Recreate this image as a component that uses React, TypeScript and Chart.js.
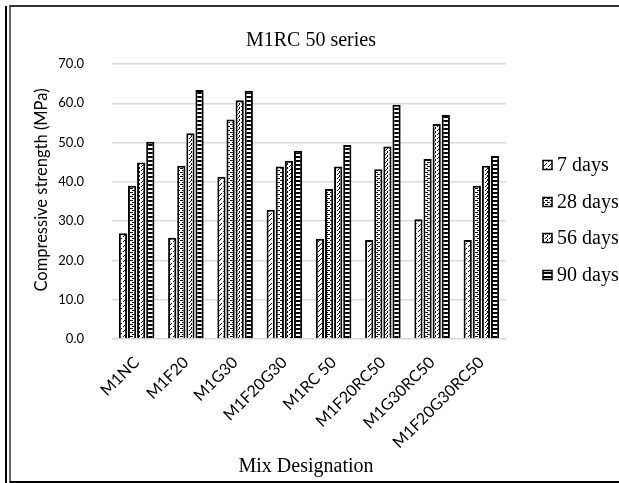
import { useEffect, useRef } from "react";
import { Chart, registerables } from "chart.js";

Chart.register(...registerables);

const categories = ["M1NC", "M1F20", "M1G30", "M1F20G30", "M1RC 50", "M1F20RC50", "M1G30RC50", "M1F20G30RC50"];
const seriesNames = ["7 days", "28 days", "56 days", "90 days"];
const days7 = [26.9, 25.8, 41.3, 32.9, 25.5, 25.2, 30.5, 25.2];
const days28 = [39.0, 44.1, 55.9, 43.9, 38.2, 43.2, 45.8, 39.0];
const days56 = [44.9, 52.4, 60.8, 45.4, 43.9, 49.0, 54.7, 44.1];
const days90 = [50.2, 63.4, 63.2, 47.9, 49.4, 59.6, 57.0, 46.6];
const yMin = 0;
const yMax = 70;
const yStep = 10;
const chartTitle = "M1RC 50 series";
const yTitle = "Compressive strength (MPa)";
const xTitle = "Mix Designation";

const PATTERNS: string[][] = [
  // 7 days: dashed upward diagonal
  [
    "....#",
    "...#.",
    ".....",
    ".#...",
    "#....",
  ],
  // 28 days: dashed horizontal
  [
    "###..",
    ".....",
    "..###",
    ".....",
  ],
  // 56 days: diagonal with dots
  [
    "...#",
    "..#.",
    ".#..",
    "...#",
  ],
  // 90 days: narrow horizontal
  [
    "####",
    "####",
    "....",
    "....",
  ],
];

function makePattern(ctx: CanvasRenderingContext2D, rows: string[]) {
  const c = document.createElement("canvas");
  c.width = rows[0].length;
  c.height = rows.length;
  const g = c.getContext("2d")!;
  g.fillStyle = "#ffffff";
  g.fillRect(0, 0, c.width, c.height);
  g.fillStyle = "#000000";
  rows.forEach((r, y) => {
    for (let x = 0; x < r.length; x++) if (r[x] === "#") g.fillRect(x, y, 1, 1);
  });
  return ctx.createPattern(c, "repeat")!;
}

export default function App() {
  const ref = useRef<HTMLCanvasElement>(null);
  useEffect(() => {
    const canvas = ref.current!;
    const ctx = canvas.getContext("2d")!;
    const pats = PATTERNS.map((p) => makePattern(ctx, p));
    const seriesData = [days7, days28, days56, days90];

    const deco = {
      id: "deco",
      afterDraw(chart: any) {
        const c = chart.ctx as CanvasRenderingContext2D;
        c.save();
        c.fillStyle = "#000";
        c.textAlign = "center";
        c.textBaseline = "middle";
        c.font = "20px 'Liberation Serif'";
        c.fillText(chartTitle, 311, 41);
        c.fillText(xTitle, 306, 467);
        c.save();
        c.translate(42, 190);
        c.rotate(-Math.PI / 2);
        c.font = "16.5px Lato";
        c.fillText(yTitle, 0, 0);
        c.restore();
        const ys = [165, 202, 238, 275];
        seriesNames.forEach((n, i) => {
          c.fillStyle = pats[i];
          c.fillRect(543, ys[i] - 4.5, 9, 9);
          c.strokeStyle = "#000";
          c.lineWidth = 1.5;
          c.strokeRect(543, ys[i] - 4.5, 9, 9);
          c.fillStyle = "#000";
          c.textAlign = "left";
          c.font = "20px 'Liberation Serif'";
          c.fillText(n, 557, ys[i] + 1);
        });
        c.fillStyle = "#000";
        c.fillRect(5, 6, 2, 477);
        c.fillStyle = "#666";
        c.fillRect(9, 5, 2, 478);
        c.fillStyle = "#333";
        c.fillRect(10, 5, 609, 2);
        c.fillStyle = "#000";
        c.fillRect(10, 481, 609, 2);
        c.restore();
      },
    };

    const chart = new Chart(canvas, {
      type: "bar",
      data: {
        labels: categories,
        datasets: seriesNames.map((n, i) => ({
          label: n,
          data: seriesData[i],
          backgroundColor: pats[i],
          borderColor: "#000",
          borderWidth: 2,
          categoryPercentage: 0.74,
          barPercentage: 0.9,
        })),
      },
      options: {
        responsive: false,
        animation: false,
        devicePixelRatio: 1,
        layout: { padding: { left: 0, top: 64, right: 113, bottom: 0 } },
        plugins: { legend: { display: false }, title: { display: false }, tooltip: { enabled: false } },
        scales: {
          x: {
            grid: { display: false },
            border: { display: false },
            ticks: {
              minRotation: 45,
              maxRotation: 45,
              color: "#000",
              font: { family: "Lato", size: 16 },
              padding: 6,
            },
            afterFit: (s: any) => {
              s.height = 144;
            },
          },
          y: {
            min: yMin,
            max: yMax,
            grid: { color: "#d9d9d9", lineWidth: 1.5, drawTicks: false },
            border: { display: false },
            ticks: {
              stepSize: yStep,
              color: "#000",
              font: { family: "Lato", size: 13 },
              padding: 28,
              callback: (v: any) => Number(v).toFixed(1),
            },
            afterFit: (s: any) => {
              s.width = 112;
            },
          },
        },
      },
      plugins: [deco],
    });
    return () => chart.destroy();
  }, []);
  return (
    <div style={{ position: "fixed", left: 0, top: 0, width: 619, height: 483, background: "#fff" }}>
      <canvas ref={ref} width={619} height={483} />
    </div>
  );
}
